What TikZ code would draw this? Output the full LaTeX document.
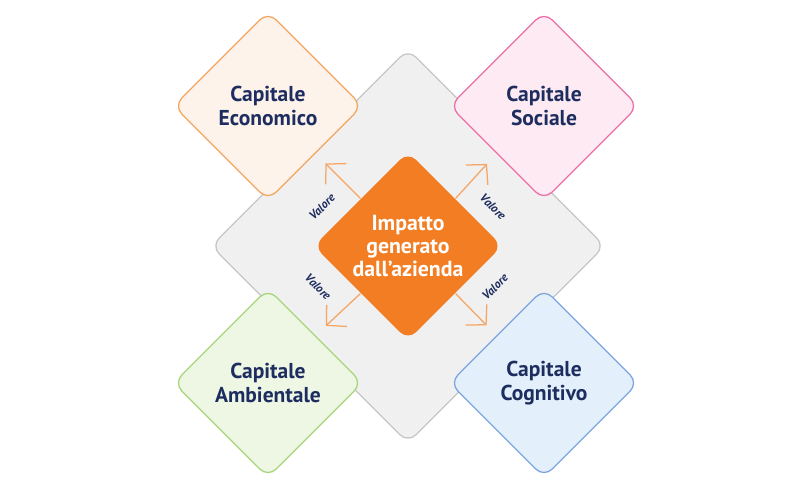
\documentclass[tikz,border=0pt]{standalone}
\usepackage{fontspec}
\setmainfont{PT Sans}
\usepackage{tikz}
\usetikzlibrary{shapes.geometric, arrows.meta, positioning, calc}
\definecolor{colGrey}{RGB}{240, 240, 240}
\definecolor{colGreyLine}{RGB}{198, 198, 198}
\definecolor{colOrange}{RGB}{242, 125, 34}
\definecolor{colArrow}{RGB}{245, 165, 100}
\definecolor{colNavy}{RGB}{30, 45, 95}
\definecolor{colEco}{RGB}{253, 243, 234}
\definecolor{colEcoLine}{RGB}{244, 165, 95}
\definecolor{colSoc}{RGB}{253, 234, 242}
\definecolor{colSocLine}{RGB}{238, 110, 165}
\definecolor{colAmb}{RGB}{238, 247, 228}
\definecolor{colAmbLine}{RGB}{166, 213, 122}
\definecolor{colCog}{RGB}{227, 240, 252}
\definecolor{colCogLine}{RGB}{125, 163, 224}

\begin{document}
\begin{tikzpicture}[x=0.025cm, y=0.025cm,
    rombo/.style={diamond, inner sep=-4pt, minimum width=4.72cm, minimum height=4.72cm,
        rounded corners=8pt, line width=0.9pt},
    capitale/.style={font=\fontsize{15.3}{16.5}\selectfont\bfseries, text=colNavy, align=center},
    freccia/.style={draw=colArrow, line width=0.9pt,
        -{Straight Barb[length=10pt, width=21pt]}, shorten >=10pt},
    valore/.style={font=\fontsize{8.5}{9}\selectfont\bfseries\itshape, text=colNavy}]
    \useasboundingbox (0, 0) rectangle (800, 492);

    % --- Base grigia ---
    \node[rombo, fill=colGrey, draw=colGreyLine, minimum width=9.85cm, minimum height=9.85cm] (base) at (408, 246) {};

    % --- Capitali ---
    \node[rombo, capitale, fill=colEco, draw=colEcoLine] (eco) at (268, 386) {Capitale\\Economico};
    \node[rombo, capitale, fill=colSoc, draw=colSocLine] (soc) at (544, 386) {Capitale\\Sociale};
    \node[rombo, capitale, fill=colAmb, draw=colAmbLine] (amb) at (268, 109) {Capitale\\Ambientale};
    \node[rombo, capitale, fill=colCog, draw=colCogLine] (cog) at (544, 109) {Capitale\\Cognitivo};

    % --- Centro ---
    \node[rombo, capitale, fill=colOrange, text=white, font=\fontsize{15.5}{16.5}\selectfont\bfseries]
        (imp) at (408, 246) {Impatto\\generato\\dall'azienda};

    % --- Frecce ---
    \draw[freccia] (imp.north west) -- (eco.south east);
    \draw[freccia] (imp.north east) -- (soc.south west);
    \draw[freccia] (imp.south west) -- (amb.north east);
    \draw[freccia] (imp.south east) -- (cog.north west);

    % --- Etichette ---
    \node[valore, rotate=45] (v1) at (322, 285) {Valore};
    \node[valore, rotate=-45] (v2) at (493, 285) {Valore};
    \node[valore, rotate=-45] (v3) at (318, 205) {Valore};
    \node[valore, rotate=45] (v4) at (495, 205) {Valore};
\end{tikzpicture}
\end{document}
